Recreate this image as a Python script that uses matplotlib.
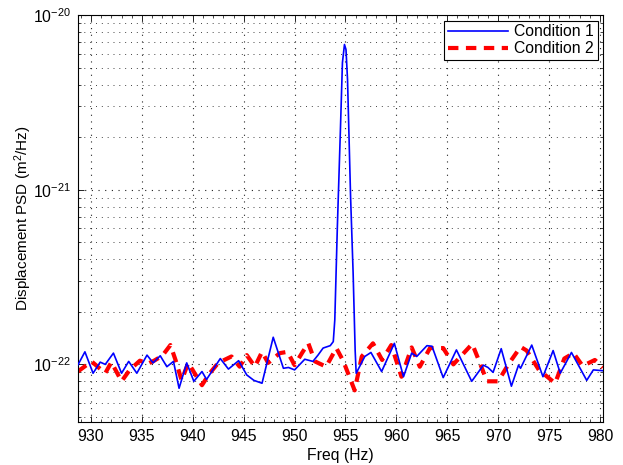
import matplotlib
matplotlib.use("Agg")
import matplotlib.pyplot as plt
import numpy as np
from matplotlib.ticker import LogLocator, MultipleLocator, LogFormatterMathtext

plt.rcParams['font.family'] = ['Liberation Sans', 'DejaVu Sans']
plt.rcParams['mathtext.fontset'] = 'custom'
plt.rcParams['mathtext.rm'] = 'Liberation Sans'
plt.rcParams['mathtext.it'] = 'Liberation Sans:italic'

# Condition 1 (blue solid), values in units of 1e-22 m^2/Hz
freq1 = [928.7, 929.4, 930.2, 930.9, 931.4, 932.2, 933.0, 933.7, 934.5, 935.5,
         936.1, 936.8, 937.45, 938.1, 938.65, 939.4, 940.1, 940.9, 941.35, 942.7,
         943.5, 944.5, 945.3, 946.0, 946.8, 947.9, 948.9, 949.4, 950.0, 951.0,
         951.8, 952.3, 952.8, 953.5, 953.8, 953.95, 954.2, 954.5, 954.7, 954.9,
         955.05, 955.2, 955.5, 955.75, 955.95, 956.05, 956.9, 957.5, 958.55, 959.8,
         960.7, 961.5, 962.0, 963.0, 963.5, 964.6, 965.9, 967.4, 968.55, 969.0,
         969.5, 970.3, 971.3, 972.0, 972.2, 973.3, 974.4, 975.4, 976.1, 977.2,
         978.7, 979.35, 980.3]
psd1 = [0.99, 1.18, 0.89, 1.03, 1.00, 1.16, 0.89, 1.04, 0.89, 1.13,
        1.02, 1.12, 0.97, 1.04, 0.73, 1.02, 0.80, 0.91, 0.82, 1.08,
        0.94, 1.05, 0.87, 0.81, 0.78, 1.43, 0.95, 0.96, 0.93, 1.07,
        1.04, 1.13, 1.24, 1.28, 1.35, 1.8, 6.1, 21.9, 53.4, 67.8,
        63.4, 42.7, 9.12, 3.34, 1.2, 0.89, 1.11, 1.17, 0.91, 1.32,
        0.85, 1.16, 1.11, 1.28, 1.27, 0.84, 1.21, 0.80, 0.99, 0.96,
        0.90, 1.23, 0.75, 0.99, 0.95, 1.29, 0.85, 1.20, 0.89, 1.17,
        0.81, 0.93, 0.92]

# Condition 2 (red dashed), values in units of 1e-22 m^2/Hz
freq2 = [928.7, 930.05, 931.4, 932.0, 933.0, 933.8, 934.8, 935.6, 936.2, 937.0,
         937.8, 938.3, 938.9, 939.55, 940.9, 941.6, 942.5, 943.8, 944.6, 945.3,
         946.1, 946.8, 947.4, 948.55, 949.3, 950.0, 950.8, 951.35, 952.0, 953.1,
         954.1, 954.8, 955.9, 956.6, 957.7, 958.6, 959.5, 960.5, 961.5, 962.3,
         963.3, 964.6, 965.6, 967.45, 968.2, 968.9, 970.0, 971.0, 972.2, 972.8,
         974.0, 975.6, 976.5, 977.4, 978.3, 979.5, 980.3]
psd2 = [0.91, 1.04, 0.89, 1.03, 0.80, 0.93, 1.05, 1.01, 1.05, 1.12,
        1.29, 1.06, 0.81, 1.02, 0.76, 0.88, 1.02, 1.11, 0.97, 1.13,
        0.97, 1.18, 1.02, 1.16, 1.18, 0.99, 1.18, 1.32, 1.04, 0.97,
        1.24, 1.04, 0.71, 1.11, 1.32, 1.06, 1.29, 0.85, 1.25, 0.97,
        1.24, 1.24, 1.00, 1.31, 1.02, 0.80, 0.80, 1.00, 1.26, 1.20,
        0.93, 0.78, 1.08, 1.16, 0.98, 1.06, 0.96]

unit = 1e-22
xticks = [930, 935, 940, 945, 950, 955, 960, 965, 970, 975, 980]

fig = plt.figure(figsize=(6.23, 4.65), dpi=100)
ax = fig.add_axes([0.1252, 0.0925, 0.8427, 0.8752])

ax.plot(freq1, np.array(psd1) * unit, color=(0, 0, 1), lw=1.2, label='Condition 1',
        zorder=3, solid_joinstyle='round')
ax.plot(freq2, np.array(psd2) * unit, color=(1, 0, 0), lw=3.0, ls=(0, (2.5, 1.8)),
        label='Condition 2', zorder=2)

ax.set_yscale('log')
ax.set_xlim(928.72, 980.3)
ax.set_ylim(4.68e-23, 1e-20)
ax.set_xticks(xticks)
ax.set_xticklabels([str(t) for t in xticks])
ax.xaxis.set_minor_locator(MultipleLocator(1))
ax.yaxis.set_major_locator(LogLocator(base=10))
ax.yaxis.set_minor_locator(LogLocator(base=10, subs=np.arange(2, 10)))
ax.yaxis.set_major_formatter(LogFormatterMathtext())
ax.yaxis.set_minor_formatter(plt.NullFormatter())

ax.tick_params(which='both', direction='in', top=True, right=True, labelsize=11.3)
ax.tick_params(which='major', length=4, width=0.6, pad=5)
ax.tick_params(which='minor', length=2, width=0.5)

ax.grid(True, which='major', axis='both', ls=(0, (1, 5)), color='#222222', lw=0.8)
ax.grid(True, which='minor', axis='y', ls=(0, (1, 5)), color='#444444', lw=0.7)
for s in ax.spines.values():
    s.set_linewidth(0.8)

ax.set_xlabel('Freq (Hz)', fontsize=11.3, labelpad=3)
ax.set_ylabel('Displacement PSD (m$^2$/Hz)', fontsize=11)
ax.yaxis.set_label_coords(-0.083, 0.5)

leg = ax.legend(loc='upper right', fontsize=11.3, frameon=True, fancybox=False,
                edgecolor='black', framealpha=1, handlelength=3.8, borderpad=0.25,
                labelspacing=0.1, handletextpad=0.4, borderaxespad=0.35)
leg.get_frame().set_linewidth(0.8)

fig.savefig('out.png', dpi=100)
